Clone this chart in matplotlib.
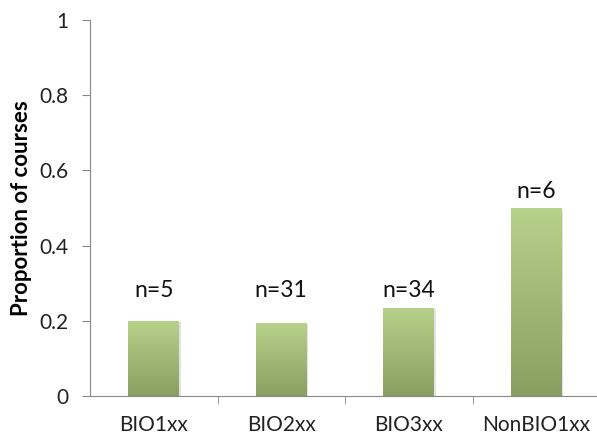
import numpy as np
import matplotlib.pyplot as plt
from matplotlib.colors import LinearSegmentedColormap
from matplotlib.patches import Rectangle

# Dados: proporção de cursos por grupo
grupos = ['BIO1xx', 'BIO2xx', 'BIO3xx', 'NonBIO1xx']
proporcao = [0.2, 0.194, 0.235, 0.5]
n_cursos = [5, 31, 34, 6]

plt.rcParams['font.family'] = ['Lato', 'DejaVu Sans']

fig = plt.figure(figsize=(5.97, 4.34), dpi=100)
ax = fig.add_axes([90 / 597, 38 / 434, 510 / 597, 376 / 434])

x = np.arange(len(grupos))
largura = 0.4

# gradiente verde: claro em cima, escuro embaixo
cmap = LinearSegmentedColormap.from_list('verde', ['#899f62', '#b7d28b'])
grad = np.linspace(0, 1, 256).reshape(-1, 1)

barras = ax.bar(x, proporcao, width=largura, color='none', edgecolor='none')
for b in barras:
    x0, y0 = b.get_x(), b.get_y()
    w, h = b.get_width(), b.get_height()
    # sombra leve
    sombra = Rectangle((x0 + 0.012, y0), w, h - 0.004, facecolor='#d0d0d0',
                       edgecolor='none', alpha=0.6, zorder=1)
    ax.add_patch(sombra)
    img = ax.imshow(grad, extent=[x0, x0 + w, y0, y0 + h], origin='lower',
                    cmap=cmap, aspect='auto', zorder=2)
    img.set_clip_path(b)

# rótulos n=...: os três BIO ficam alinhados na mesma altura
altura_rotulo = np.maximum(proporcao, max(proporcao[:3])) + 0.045
for xi, yr, n in zip(x, altura_rotulo, n_cursos):
    ax.text(xi, yr, f'n={n}', ha='center', va='center', fontsize=16.5,
            color='#111111')

ax.set_xlim(-0.5, len(grupos) - 0.5)
ax.set_ylim(0, 1)
ax.set_yticks(np.arange(0, 1.01, 0.2))
ax.set_yticklabels(['0', '0.2', '0.4', '0.6', '0.8', '1'])
ax.set_xticks(x)
ax.set_xticklabels(grupos)
ax.set_xticks(np.arange(0.5, len(grupos) - 0.5, 1), minor=True)
ax.tick_params(axis='x', which='major', length=0, labelsize=15, pad=14, colors='#222222')
ax.tick_params(axis='x', which='minor', length=6, color='#888888', direction='out')
ax.tick_params(axis='y', length=5.8, color='#888888', labelsize=15, pad=10, labelcolor='#222222')

for lado in ['top', 'right']:
    ax.spines[lado].set_visible(False)
for lado in ['left', 'bottom']:
    ax.spines[lado].set_color('#888888')

ax.set_ylabel('Proportion of courses', fontsize=16, fontweight='bold', labelpad=5)

fig.savefig('out.png', dpi=100)
